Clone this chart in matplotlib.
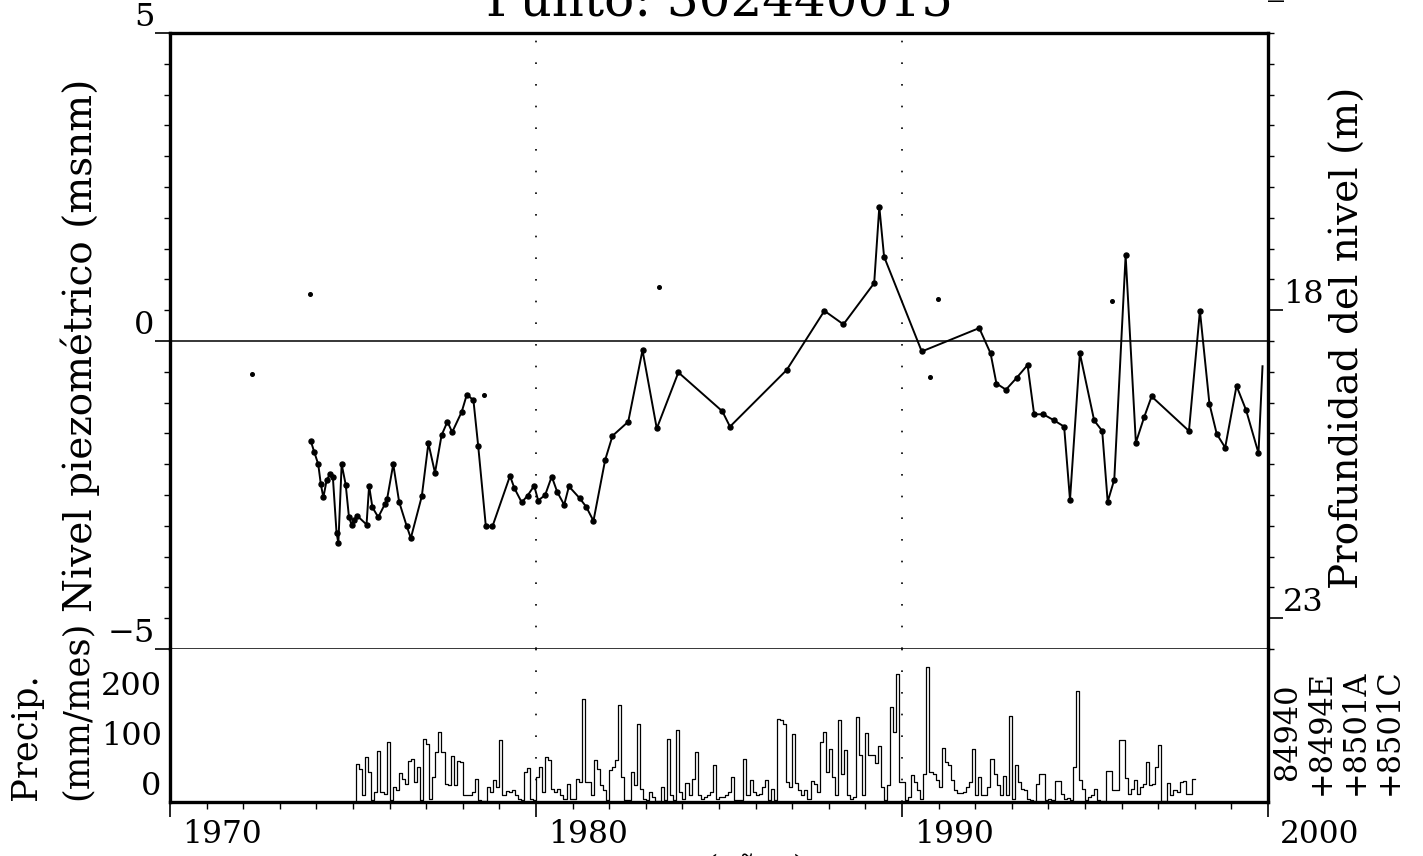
import numpy as np
import matplotlib
matplotlib.use("Agg")
import matplotlib.pyplot as plt
import matplotlib.transforms as mtrans
from matplotlib.ticker import MultipleLocator, FixedLocator

plt.rcParams['font.family'] = ['DejaVu Serif']

# Nivel piezometrico (msnm)
anios_nivel = [1973.85, 1973.94, 1974.05, 1974.12, 1974.19, 1974.28, 1974.37, 1974.45,
               1974.55, 1974.60, 1974.69, 1974.80, 1974.89, 1974.96, 1975.03, 1975.12,
               1975.37, 1975.44, 1975.53, 1975.69, 1975.87, 1975.93, 1976.10, 1976.26,
               1976.47, 1976.58, 1976.88, 1977.06, 1977.24, 1977.42, 1977.58, 1977.71,
               1977.97, 1978.11, 1978.29, 1978.42, 1978.63, 1978.81, 1979.29, 1979.41,
               1979.61, 1979.77, 1979.95, 1980.06, 1980.25, 1980.43, 1980.58, 1980.77,
               1980.90, 1981.19, 1981.37, 1981.57, 1981.89, 1982.09, 1982.52, 1982.91,
               1983.30, 1983.89, 1985.09, 1985.30, 1986.85, 1987.88, 1988.40, 1989.24,
               1989.38, 1989.51, 1990.54, 1992.11, 1992.42, 1992.58, 1992.84, 1993.13,
               1993.43, 1993.61, 1993.86, 1994.16, 1994.43, 1994.59, 1994.86, 1995.25,
               1995.47, 1995.62, 1995.80, 1996.11, 1996.39, 1996.62, 1996.82, 1997.84,
               1998.14, 1998.40, 1998.60, 1998.83, 1999.14, 1999.40, 1999.74, 1999.85]
nivel = [-1.63, -1.80, -2.00, -2.32, -2.54, -2.26, -2.16, -2.21,
         -3.11, -3.28, -2.00, -2.33, -2.86, -2.98, -2.90, -2.84,
         -2.98, -2.35, -2.70, -2.86, -2.65, -2.57, -2.00, -2.61,
         -3.01, -3.20, -2.52, -1.66, -2.14, -1.53, -1.31, -1.48,
         -1.15, -0.87, -0.96, -1.70, -3.01, -3.01, -2.19, -2.39,
         -2.62, -2.51, -2.35, -2.59, -2.50, -2.20, -2.45, -2.66,
         -2.36, -2.55, -2.69, -2.92, -1.93, -1.54, -1.31, -0.15,
         -1.42, -0.51, -1.14, -1.39, -0.47, 0.49, 0.27, 0.94,
         2.18, 1.37, -0.17, 0.21, -0.20, -0.69, -0.79, -0.60,
         -0.39, -1.19, -1.19, -1.29, -1.39, -2.58, -0.20, -1.29,
         -1.46, -2.61, -2.25, 1.39, -1.65, -1.23, -0.90, -1.46,
         0.49, -1.02, -1.51, -1.73, -0.73, -1.12, -1.82, -0.41]
tiene_marca = [True] * (len(nivel) - 1) + [False]

# puntos sueltos
anios_sueltos = [1972.24, 1973.83, 1978.59, 1983.37, 1990.77, 1990.97, 1995.75]
nivel_sueltos = [-0.54, 0.76, -0.87, 0.88, -0.58, 0.68, 0.65]

# Precipitacion mensual (mm/mes), enero 1975 - diciembre 1997
precip_anual = {
    1975: [0, 77, 67, 14, 91, 61, 4, 21, 102, 21, 17, 121],
    1976: [4, 31, 24, 59, 47, 37, 82, 86, 41, 71, 4, 127],
    1977: [117, 7, 51, 100, 141, 101, 37, 35, 93, 34, 82, 81],
    1978: [14, 14, 14, 20, 46, 4, 2, 2, 31, 21, 44, 31],
    1979: [124, 14, 22, 20, 24, 14, 7, 4, 61, 69, 7, 4],
    1980: [51, 71, 21, 91, 84, 27, 21, 27, 14, 7, 37, 7],
    1981: [7, 47, 41, 207, 41, 41, 14, 84, 67, 34, 24, 4],
    1982: [64, 71, 84, 195, 51, 4, 4, 61, 34, 157, 27, 7],
    1983: [4, 21, 11, 2, 2, 31, 4, 126, 14, 4, 144, 21],
    1984: [7, 39, 14, 47, 101, 14, 7, 11, 15, 20, 75, 7],
    1985: [11, 11, 14, 21, 51, 4, 4, 4, 86, 14, 44, 21],
    1986: [14, 17, 30, 44, 4, 27, 4, 167, 164, 157, 41, 30],
    1987: [137, 38, 24, 14, 24, 7, 42, 37, 20, 120, 141, 61],
    1988: [107, 51, 14, 165, 57, 105, 14, 7, 10, 171, 94, 14],
    1989: [139, 94, 94, 79, 113, 31, 4, 34, 191, 141, 257, 41],
    1990: [41, 4, 10, 55, 41, 24, 7, 57, 271, 60, 57, 44],
    1991: [31, 109, 81, 74, 44, 24, 19, 19, 21, 30, 41, 106],
    1992: [14, 51, 14, 14, 31, 87, 57, 34, 14, 53, 14, 172],
    1993: [7, 74, 41, 27, 24, 7, 4, 2, 37, 57, 57, 4],
    1994: [7, 5, 42, 42, 17, 7, 9, 4, 71, 223, 44, 27],
    1995: [4, 11, 14, 27, 4, 2, 2, 62, 62, 24, 24, 124],
    1996: [124, 49, 17, 27, 44, 17, 31, 37, 81, 34, 37, 71],
    1997: [115, 2, 2, 39, 14, 24, 21, 41, 42, 17, 17, 46],
}
estaciones = ["84940", "+8494E", "+8501A", "+8501C"]
cota_terreno = 18.5  # profundidad = cota - nivel

precip = np.concatenate([precip_anual[a] for a in sorted(precip_anual)])
t_precip = 1975 + np.arange(len(precip) + 1) / 12.0
precip_step = np.append(precip, precip[-1])

W, H = 1423, 856
fig = plt.figure(figsize=(W / 100, H / 100), dpi=100)
x0, x1 = 170 / W, 1268 / W
y_top, y_mid, y_bot = 1 - 33 / H, 1 - 649 / H, 1 - 802 / H
ax = fig.add_axes([x0, y_mid, x1 - x0, y_top - y_mid])
axp = fig.add_axes([x0, y_bot, x1 - x0, y_mid - y_bot], sharex=ax)

fs = 23       # numeros de los ejes
fs_lab = 28   # titulos de los ejes
fs_pre = 25.5
grueso = 2.4
fino = 1.1

# --- panel nivel ---
ax.plot(anios_nivel, nivel, color='black', lw=1.4, zorder=3)
ax.plot(np.array(anios_nivel)[tiene_marca], np.array(nivel)[tiene_marca], 'o',
        color='black', ms=3.6, zorder=4)
ax.plot(anios_sueltos, nivel_sueltos, 'o', color='black', ms=2.6, zorder=4)
ax.axhline(0, color='black', lw=fino)
ax.set_xlim(1970, 2000)
ax.set_ylim(-5, 5)
ax.yaxis.set_major_locator(FixedLocator([-5, 0, 5]))
ax.yaxis.set_minor_locator(MultipleLocator(0.5))
ax.tick_params(axis='y', which='major', direction='out', length=11, width=1.2,
               labelsize=fs, pad=0)
ax.tick_params(axis='y', which='minor', direction='out', length=4, width=1.0)
for lab in ax.get_yticklabels():
    lab.set_va('bottom')
ax.tick_params(axis='x', which='both', bottom=False, labelbottom=False)
for s in ['top', 'left', 'right']:
    ax.spines[s].set_linewidth(grueso)
ax.spines['bottom'].set_linewidth(fino)

for a in (ax, axp):
    for yr in (1980, 1990):
        a.axvline(yr, color='black', lw=1.2, ls=(0, (1, 12)), zorder=1)

# eje derecho: profundidad
ax2 = ax.twinx()
ax2.set_ylim(cota_terreno + 5, cota_terreno - 5)
ax2.yaxis.set_major_locator(FixedLocator([18, 23]))
ax2.yaxis.set_minor_locator(MultipleLocator(0.5))
ax2.tick_params(axis='y', which='major', direction='out', length=11, width=1.2,
                labelsize=fs, pad=0)
ax2.tick_params(axis='y', which='minor', direction='out', length=4, width=1.0)
for lab in ax2.get_yticklabels():
    lab.set_va('bottom')
for s in ax2.spines.values():
    s.set_visible(False)
trans_der = mtrans.blended_transform_factory(ax2.transAxes, ax2.transData)
ax2.text(1.0, 13, "_13", transform=trans_der, ha='left', va='bottom',
         fontsize=fs, clip_on=False)

# --- panel precipitacion ---
axp.step(t_precip, precip_step, where='post', color='black', lw=0.9)
axp.set_ylim(0, 306)
axp.yaxis.set_major_locator(FixedLocator([0, 100, 200]))
axp.tick_params(axis='y', which='major', length=0, labelsize=fs, pad=6)
for lab in axp.get_yticklabels():
    lab.set_va('bottom')
axp.xaxis.set_major_locator(FixedLocator([1970, 1980, 1990, 2000]))
axp.xaxis.set_minor_locator(MultipleLocator(1))
axp.tick_params(axis='x', which='major', direction='out', length=11, width=1.2,
                labelsize=fs - 0.5, pad=1.5)
axp.tick_params(axis='x', which='minor', direction='out', length=5, width=1.0)
desp = mtrans.ScaledTranslation(12 / 100, 0, fig.dpi_scale_trans)
for lab in axp.get_xticklabels():
    lab.set_ha('left')
    lab.set_transform(lab.get_transform() + desp)
axp.spines['top'].set_visible(False)
for s in ['left', 'right', 'bottom']:
    axp.spines[s].set_linewidth(grueso)

# --- textos ---
xc = (x0 + x1) / 2
fig.text(xc, 1 - 15 / H, "Punto: 302440015", ha='center', va='baseline', fontsize=36)
fig.text(80 / W, 1 - 345 / H, "Nivel piezométrico (msnm)", rotation=90,
         ha='center', va='center', fontsize=fs_lab)
fig.text(1348 / W, 1 - 338 / H, "Profundidad del nivel (m)", rotation=90,
         ha='center', va='center', fontsize=fs_lab)
fig.text(26 / W, 1 - 800 / H, "Precip.", rotation=90, ha='center', va='bottom',
         fontsize=fs_pre)
fig.text(77 / W, 1 - 800 / H, "(mm/mes)", rotation=90, ha='center', va='bottom',
         fontsize=fs_pre)
fig.text(1338 / W, 1 - 732 / H, "\n".join(estaciones), rotation=90, ha='center',
         va='center', fontsize=fs - 1, linespacing=1.12)
fig.text(756 / W, 1 - 878 / H, "(años)", ha='center', va='baseline', fontsize=fs)

fig.savefig("out.png", dpi=100)
